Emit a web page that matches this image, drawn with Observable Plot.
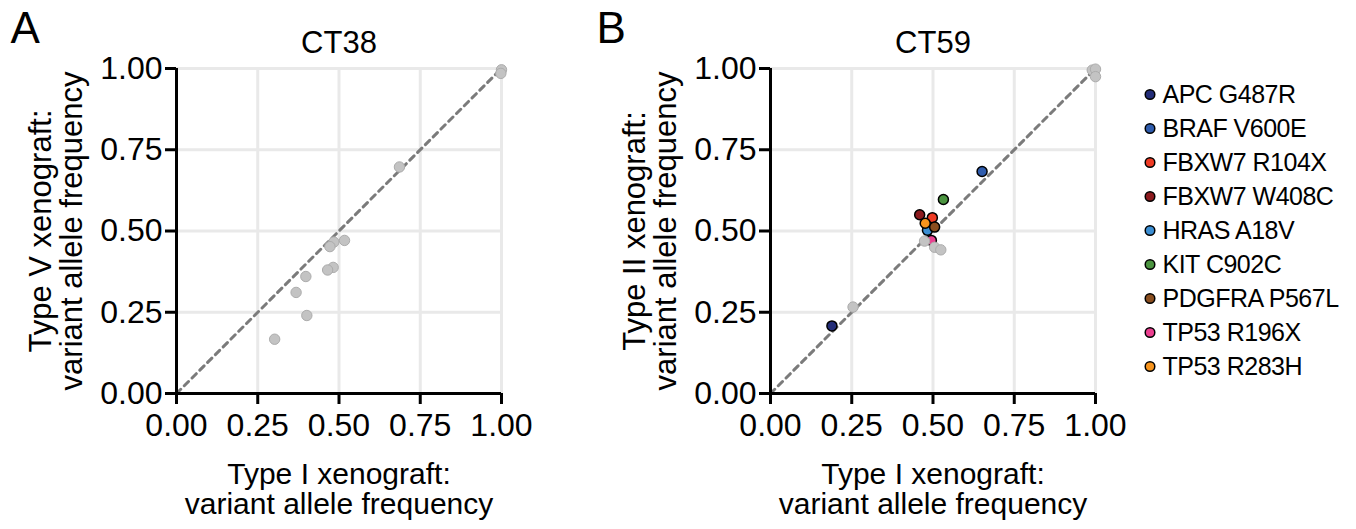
<!DOCTYPE html>
<html><head><meta charset="utf-8">
<script src="https://cdn.jsdelivr.net/npm/d3@7"></script>
<script src="https://cdn.jsdelivr.net/npm/@observablehq/plot@0.6"></script>
<style>
body{margin:0;background:#fff;}
#fig{position:relative;width:1356px;height:529px;overflow:hidden;font-family:'Liberation Sans',Arial,sans-serif;}
#fig svg{position:absolute;top:0;}
</style></head><body><div id="fig"></div>
<script>
// ---- data ----
const tickValues = [0, 0.25, 0.5, 0.75, 1];
const gridValues = [0.25, 0.5, 0.75, 1];
const diagonal = [0, 1];

// Panel A: CT38 (Type I vs Type V)
const ct38X = [1.0, 0.998, 0.686, 0.517, 0.484, 0.472, 0.482, 0.465, 0.398, 0.368, 0.401, 0.302];
const ct38Y = [0.996, 0.985, 0.697, 0.471, 0.466, 0.452, 0.388, 0.380, 0.360, 0.311, 0.240, 0.167];

// Panel B: CT59 (Type I vs Type II), unlabelled variants
const ct59X = [0.99, 1.0, 1.0, 0.254, 0.474, 0.505, 0.524];
const ct59Y = [0.995, 0.998, 0.975, 0.266, 0.469, 0.450, 0.442];

// Panel B: labelled variants
const mutations = ["APC G487R", "BRAF V600E", "FBXW7 R104X", "FBXW7 W408C", "HRAS A18V", "KIT C902C", "PDGFRA P567L", "TP53 R196X", "TP53 R283H"];
const mutX = [0.189, 0.651, 0.498, 0.459, 0.483, 0.532, 0.505, 0.495, 0.476];
const mutY = [0.208, 0.683, 0.541, 0.550, 0.502, 0.597, 0.512, 0.471, 0.524];
const mutColors = ["#232d78", "#2f5cad", "#ef3b24", "#8c1a1e", "#3b8ed3", "#4b9440", "#8a4e1f", "#ec3f90", "#f7941d"];

const xLabel = "Type I xenograft:\nvariant allele frequency";

// ---- drawing ----
const fig = document.getElementById("fig");
const FONT = "'Liberation Sans', Arial, sans-serif";

function panel({left, letter, title, yLabel, grayX, grayY, colored}) {
  const gray = grayX.map((x, i) => ({x, y: grayY[i]}));
  const diag = diagonal.map(v => ({x: v, y: v}));
  const marks = [
    Plot.gridX(gridValues, {stroke: "#e9e9e9", strokeOpacity: 1, strokeWidth: 3}),
    Plot.gridY(gridValues, {stroke: "#e9e9e9", strokeOpacity: 1, strokeWidth: 3}),
    Plot.line(diag, {x: "x", y: "y", stroke: "#7b7b7b", strokeWidth: 3, strokeDasharray: "6,5"})
  ];
  if (colored) {
    marks.push(Plot.dot(colored, {x: "x", y: "y", fill: "name", r: 5, stroke: "black", strokeWidth: 1.5}));
  }
  marks.push(
    Plot.dot(gray, {x: "x", y: "y", r: 5.2, fill: "#c3c3c3", stroke: "#acacac", strokeWidth: 1}),
    Plot.ruleX([0], {stroke: "black", strokeWidth: 3}),
    Plot.ruleY([0], {stroke: "black", strokeWidth: 3}),
    Plot.axisX(tickValues, {tickSize: 11, tickPadding: 9, tickFormat: d3.format(".2f"), fontSize: 32, strokeWidth: 3, label: null}),
    Plot.axisY(tickValues, {tickSize: 11, tickPadding: 3, tickFormat: d3.format(".2f"), fontSize: 32, strokeWidth: 3, label: null}),
    Plot.text([letter], {text: d => d, frameAnchor: "top-left", dx: left === 0 ? -166 : -174, dy: -26, fontSize: 44, textAnchor: "start", lineAnchor: "bottom"}),
    Plot.text([title], {text: d => d, frameAnchor: "top", dy: -16, fontSize: 31, textAnchor: "middle", lineAnchor: "bottom"}),
    Plot.text([yLabel], {text: d => d, frameAnchor: "left", dx: -95, rotate: -90, fontSize: 31, lineHeight: 1, textAnchor: "middle", lineAnchor: "bottom"}),
    Plot.text([xLabel], {text: d => d, frameAnchor: "bottom", dy: 120, fontSize: 30, lineHeight: 1, textAnchor: "middle", lineAnchor: "bottom"})
  );
  const svg = Plot.plot({
    width: 540,
    height: 529,
    marginLeft: 176,
    marginRight: 39,
    marginTop: 68,
    marginBottom: 136,
    x: {domain: [0, 1]},
    y: {domain: [0, 1]},
    color: {domain: mutations, range: mutColors},
    style: {fontFamily: FONT, background: "transparent", overflow: "visible", color: "black"},
    marks
  });
  svg.style.left = left + "px";
  fig.appendChild(svg);
}

panel({left: 0, letter: "A", title: "CT38", yLabel: "Type V xenograft:\nvariant allele frequency", grayX: ct38X, grayY: ct38Y});
panel({
  left: 594, letter: "B", title: "CT59", yLabel: "Type II xenograft:\nvariant allele frequency",
  grayX: ct59X, grayY: ct59Y,
  colored: mutations.map((name, i) => ({name, x: mutX[i], y: mutY[i]}))
});

// legend
const legend = Plot.plot({
  width: 222,
  height: 529,
  marginLeft: 15.5,
  marginRight: 0,
  marginTop: 92.5,
  marginBottom: 162,
  y: {type: "point", domain: mutations, padding: 0, axis: null},
  color: {domain: mutations, range: mutColors},
  style: {fontFamily: FONT, background: "transparent", overflow: "visible", color: "black", letterSpacing: "-0.5px"},
  marks: [
    Plot.dot(mutations, {y: d => d, fill: d => d, frameAnchor: "left", r: 4.8, stroke: "black", strokeWidth: 1.5}),
    Plot.text(mutations, {y: d => d, text: d => d, frameAnchor: "left", dx: 12.5, textAnchor: "start", fontSize: 25})
  ]
});
legend.style.left = "1134px";
fig.appendChild(legend);
</script>
</body></html>
